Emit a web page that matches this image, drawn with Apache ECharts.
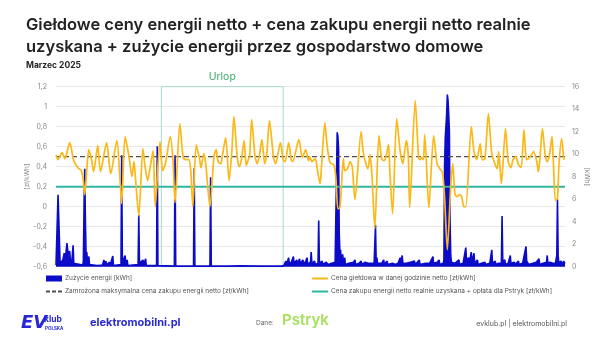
<!DOCTYPE html>
<html>
<head>
<meta charset="utf-8">
<script src="https://cdn.jsdelivr.net/npm/echarts@6/dist/echarts.min.js"></script>
<style>
  html, body { margin: 0; padding: 0; background: #fff; }
  #chart { width: 605px; height: 339px; }
</style>
</head>
<body>
<div id="chart"></div>
<script>
// March 2025, hour index from 00:00 on 1 March (0..744)
const HOURS_IN_MONTH = 744;

// Hourly exchange price, net [zł/kWh] – turning points of the curve
const priceHour = [0,3,9,13,20,26,32,37,40,42,46,48,52,55,61,65,74,80,89,93,96,101,107,111,114,116,121,127,130,134,138,142,145,152,156,160,167,171,174,181,186,190,194,197,200,205,210,212,216,219,225,231,234,237,241,243,248,253,257,260,265,268,271,275,278,281,283,286,291,294,297,301,305,308,312,318,321,328,332,335,340,344,346,355,360,365,369,371,374,379,382,386,388,393,396,400,403,406,409,412,415,418,420,422,426,430,433,437,446,449,453,456,459,462,466,472,476,479,482,486,488,492,498,503,507,512,515,517,525,530,532,535,537,539,545,552,557,561,565,568,572,577,580,583,586,590,593,596,599,607,611,615,620,623,627,632,637,642,645,647,651,657,661,665,668,672,676,680,684,688,693,698,703,705,707,711,715,718,721,725,727,730,733,735,739,742,743];
const priceVal  = [0.52,0.47,0.54,0.48,0.64,0.46,0.39,0.36,0.26,0.12,0.46,0.57,0.47,0.35,0.61,0.35,0.64,0.33,0.66,0.33,0.03,0.70,0.49,0.30,0.45,0.30,-0.09,0.58,0.41,0.26,0.41,0.56,0.00,0.65,0.36,0.43,0.70,0.46,0.04,0.83,0.49,0.47,0.47,0.36,0.00,0.62,0.47,0.39,0.53,0.42,0.00,0.51,0.57,0.45,0.43,0.50,0.69,0.26,0.55,0.90,0.49,0.40,0.47,0.66,0.41,0.47,0.50,0.87,0.50,0.43,0.50,0.67,0.43,0.52,0.86,0.49,0.43,0.64,0.47,0.45,0.64,0.47,0.45,0.67,0.49,0.57,0.46,0.50,0.45,0.48,0.37,0.23,0.39,0.84,0.63,0.45,0.43,0.42,0.30,-0.02,-0.01,0.30,0.48,0.36,0.38,0.45,0.40,0.07,0.75,0.55,0.43,0.38,0.52,0.30,-0.22,0.71,0.48,0.46,0.49,0.62,0.35,-0.07,0.88,0.56,0.43,0.66,0.50,-0.01,1.06,0.49,0.47,0.49,0.47,0.72,-0.01,0.71,0.43,0.38,0.34,0.09,-0.43,0.21,0.43,0.13,0.10,0.12,0.10,0.00,0.00,0.80,0.55,0.47,0.63,0.47,0.48,0.93,0.53,0.42,0.38,0.55,0.23,0.78,0.45,0.39,0.47,0.50,0.42,0.39,0.77,0.47,0.50,0.55,0.44,0.35,0.45,0.78,0.52,0.45,0.50,0.70,0.45,0.06,0.08,0.40,0.68,0.50,0.47];

// Household energy use [kWh]
const useHour = [0,2,3,5,6,8,10,12,14,16,18,20,21,23,25,26,28,39,40,41,42,43,44,45,46,48,49,60,68,70,71,73,74,78,79,83,84,95,96,97,101,102,104,105,120,121,122,127,129,131,132,147,148,149,173,174,175,201,202,203,225,226,227,250,270,300,330,333,336,337,340,341,344,347,348,352,353,356,357,361,362,365,367,368,372,373,374,378,379,383,384,385,389,390,395,398,403,408,409,410,411,412,413,414,415,416,417,419,420,422,423,428,435,437,438,443,446,447,452,456,460,465,466,467,468,469,470,476,479,480,484,485,492,496,500,503,504,506,507,512,518,524,525,531,532,540,546,551,552,557,560,561,566,567,568,569,570,571,572,573,574,575,576,577,578,583,589,590,595,599,600,603,604,607,608,611,612,616,617,622,627,628,634,637,638,642,643,647,651,652,653,656,657,661,664,665,670,671,676,677,682,687,688,690,691,697,702,706,707,712,717,718,719,722,726,730,732,733,734,735,738,740,742,744];
const useKwh  = [0.15,0.2,6.4,6.3,0.3,0.2,0.6,1.2,0.9,2.1,1.0,1.4,0.6,0.4,1.9,0.3,0.15,0.15,0.5,5.5,8.7,4.0,1.0,1.3,0.5,0.9,0.2,0.1,0.15,0.6,0.2,0.5,0.15,0.4,0.1,0.95,0.1,0.2,9.9,0.4,1.0,0.3,0.6,0.1,0.2,4.6,0.3,0.6,0.3,0.7,0.1,0.1,10.7,0.1,0.05,9.9,0.05,0.05,8.75,0.05,0.05,7.95,0.05,0.05,0.08,0.05,0.05,0.1,0.5,0.2,0.8,0.3,0.4,0.9,0.3,0.6,0.2,0.7,0.3,0.6,0.2,0.5,0.8,0.2,0.4,1.3,0.3,0.5,0.2,0.3,4.1,0.3,0.5,0.2,0.4,0.2,0.3,0.4,0.5,8.0,11.95,11.6,10.5,3.0,1.2,1.5,0.4,1.1,0.5,0.8,0.2,0.3,0.4,0.6,0.2,0.3,0.5,0.2,0.4,0.3,0.3,0.3,0.4,3.7,0.5,0.8,0.3,0.3,0.6,0.2,0.5,0.2,0.3,0.2,0.3,0.8,0.3,1.0,0.3,0.3,0.4,0.5,0.2,0.6,0.2,0.3,0.3,0.9,0.3,0.4,0.6,0.2,0.3,0.6,9.0,11.5,12.5,13.6,15.3,14.8,13.6,12.0,4.0,1.0,0.4,0.3,0.6,0.2,0.3,1.7,0.6,0.8,0.3,1.3,0.4,1.2,0.3,0.6,0.2,0.3,0.4,0.2,0.3,1.5,0.3,0.5,0.2,0.3,0.3,4.5,0.5,0.6,0.2,0.3,1.0,0.3,0.4,0.2,0.5,0.2,0.3,1.8,0.5,0.6,0.2,0.3,0.4,0.7,0.2,0.3,0.4,1.0,0.3,0.4,0.3,0.3,1.0,6.0,1.0,0.3,0.5,0.2,0.5,0.3];

// Reference price levels [zł/kWh]
const frozenPrice = 0.5;
const realisedPrice = 0.2;

// Holiday period (hour index)
const holidayStart = 154;
const holidayEnd = 332;

// Axis ranges / ticks
const priceAxis = { min: -0.6, max: 1.2, step: 0.2 };
const useAxis = { min: 0, max: 16, step: 2 };

const names = {
  use: 'Zużycie energii [kWh]',
  price: 'Cena giełdowa w danej godzinie netto [zł/kWh]',
  frozen: 'Zamrożona maksymalna cena zakupu energii netto [zł/kWh]',
  realised: 'Cena zakupu energii netto realnie uzyskana + opłata dla Pstryk [zł/kWh]'
};

const pair = (xs, ys) => xs.map((x, i) => [x, ys[i]]);
const flat = v => [[0, v], [HOURS_IN_MONTH, v]];

// legend glyphs: solid stroke and dashed stroke
const solidIcon = 'path://M0,0H16V2H0Z';
const dashIcon = 'path://M0,0H4V2H0Z M6,0H10V2H6Z M12,0H16V2H12Z';

const chart = echarts.init(document.getElementById('chart'), null, { renderer: 'canvas' });
const labelFont = 'Inter, "Open Sans", sans-serif';

const legendBase = {
  top: 275, orient: 'vertical', padding: 0, itemGap: 6, itemWidth: 16, itemHeight: 6,
  symbolKeepAspect: true,
  textStyle: { fontFamily: labelFont, fontSize: 6.5, color: '#555', padding: [0, 0, 0, -2] }
};

chart.setOption({
  animation: false,
  backgroundColor: '#fff',
  title: [
    {
      text: 'Giełdowe ceny energii netto + cena zakupu energii netto realnie\nuzyskana + zużycie energii przez gospodarstwo domowe',
      left: 21, top: 9,
      textStyle: { fontFamily: labelFont, fontSize: 16.5, fontWeight: 600, color: '#222', lineHeight: 22 }
    },
    {
      text: 'Marzec 2025',
      left: 21, top: 56,
      textStyle: { fontFamily: labelFont, fontSize: 8.5, fontWeight: 700, color: '#222' }
    }
  ],
  grid: { left: 56, right: 40, top: 86.7, bottom: 72.3, containLabel: false },
  legend: [
    Object.assign({}, legendBase, {
      left: 46,
      data: [{ name: names.use, icon: 'rect' }, { name: names.frozen, icon: dashIcon }]
    }),
    Object.assign({}, legendBase, {
      left: 312,
      data: [{ name: names.price, icon: solidIcon }, { name: names.realised, icon: solidIcon }]
    })
  ],
  xAxis: {
    type: 'value', min: 0, max: HOURS_IN_MONTH,
    axisLine: { show: false }, axisTick: { show: false }, axisLabel: { show: false }, splitLine: { show: false }
  },
  yAxis: [
    {
      type: 'value', min: priceAxis.min, max: priceAxis.max, interval: priceAxis.step,
      name: '[zł/kWh]', nameLocation: 'middle', nameGap: 25, nameRotate: 90, nameMoveOverlap: false,
      nameTextStyle: { fontFamily: labelFont, fontSize: 6.5, color: '#888' },
      axisLine: { show: false }, axisTick: { show: false },
      axisLabel: {
        margin: 9, fontFamily: labelFont, fontSize: 7, color: '#888',
        formatter: v => String(Math.round(v * 10) / 10).replace('.', ',')
      },
      splitLine: { lineStyle: { color: '#e8e8e8', width: 1 } }
    },
    {
      type: 'value', min: useAxis.min, max: useAxis.max, interval: useAxis.step,
      name: '[kWh]', nameLocation: 'middle', nameGap: 18, nameRotate: -90, nameMoveOverlap: false,
      nameTextStyle: { fontFamily: labelFont, fontSize: 6.5, color: '#888' },
      axisLine: { show: false }, axisTick: { show: false },
      axisLabel: { margin: 7, fontFamily: labelFont, fontSize: 7, color: '#888' },
      splitLine: { show: false }
    }
  ],
  series: [
    {
      name: names.use, type: 'line', yAxisIndex: 1, symbol: 'none', z: 1,
      data: pair(useHour, useKwh),
      color: '#0c0cc8',
      lineStyle: { color: '#0c0cc8', width: 1.6 },
      areaStyle: { color: '#0c0cc8', opacity: 1 }
    },
    {
      name: names.frozen, type: 'line', yAxisIndex: 0, symbol: 'none', z: 2,
      data: flat(frozenPrice),
      color: '#505050',
      lineStyle: { color: '#505050', width: 1.3, type: [5, 3] }
    },
    {
      name: names.realised, type: 'line', yAxisIndex: 0, symbol: 'none', z: 3,
      data: flat(realisedPrice),
      color: '#2fb5a3',
      lineStyle: { color: '#2fb5a3', width: 2 }
    },
    {
      name: names.price, type: 'line', yAxisIndex: 0, symbol: 'none', z: 4,
      smooth: 0.25,
      data: pair(priceHour, priceVal),
      color: '#fbb817',
      lineStyle: { color: '#fbb817', width: 1.7 },
      markArea: {
        silent: true,
        itemStyle: { color: 'rgba(0,0,0,0)', borderColor: '#a6dcc9', borderWidth: 1 },
        label: { show: true, position: 'top', distance: 4, color: '#3aae67', fontFamily: labelFont, fontSize: 10.5 },
        data: [[
          { name: 'Urlop', xAxis: holidayStart, yAxis: priceAxis.max },
          { xAxis: holidayEnd, yAxis: priceAxis.min }
        ]]
      }
    }
  ],
  graphic: [
    { type: 'text', left: 21, top: 314, style: { text: 'EV', fontFamily: '"DejaVu Sans", sans-serif', fontSize: 18, fontWeight: 900, fontStyle: 'italic', fill: '#2727d8' } },
    { type: 'text', left: 44, top: 315, style: { text: 'klub', fontFamily: labelFont, fontSize: 8.5, fontWeight: 700, fill: '#2727d8' } },
    { type: 'text', left: 45, top: 326, style: { text: 'POLSKA', fontFamily: labelFont, fontSize: 4.5, fontWeight: 700, fill: '#2727d8' } },
    { type: 'text', left: 90, top: 317, style: { text: 'elektromobilni.pl', fontFamily: labelFont, fontSize: 11, fontWeight: 700, fill: '#2a2ad2' } },
    { type: 'text', left: 256, top: 320, style: { text: 'Dane:', fontFamily: labelFont, fontSize: 6.5, fill: '#666' } },
    { type: 'text', left: 282, top: 313, style: { text: 'Pstryk', fontFamily: labelFont, fontSize: 15, fontWeight: 600, fill: '#a6e05c' } },
    { type: 'text', right: 38, top: 320, style: { text: 'evklub.pl | elektromobilni.pl', fontFamily: labelFont, fontSize: 7, fill: '#555' } }
  ]
});
</script>
</body>
</html>
